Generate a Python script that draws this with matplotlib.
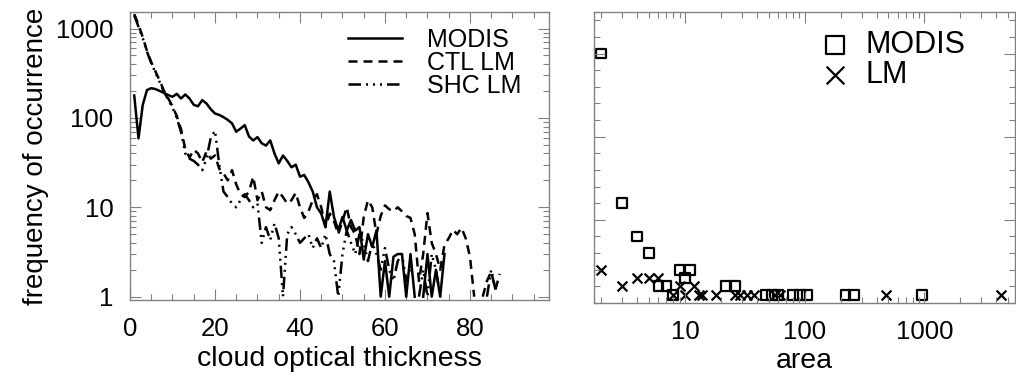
import numpy as np
import matplotlib
matplotlib.use("Agg")
import matplotlib.pyplot as plt
from matplotlib.ticker import FixedLocator, MultipleLocator, LogLocator, NullFormatter, FuncFormatter

plt.rcParams['font.family'] = ['Liberation Sans', 'DejaVu Sans']

nan = np.nan

# --- LEFT PANEL DATA: frequency vs cloud optical thickness ---
tau = np.arange(1, 89)

modis = [178, 59, 140, 205, 215, 210, 200, 190, 180, 172,
         186, 165, 183, 165, 140, 135, 158, 145, 125, 112,
         108, 102, 95, 87, 70, 76, 83, 62, 56, 61,
         52, 49, 56, 40, 31, 38, 33, 28, 30, 22,
         23, 19, 15, 10, 8.5, 6, 15, 7.8, 5.5, 7.8,
         5.5, 7.2, 5.5, 6, 2.6, 5, 3.6, 5.5, 1, 2.5,
         1, 2.8, 3, 3, 1, 3, 1, nan, 1, 3,
         1, 2, 1, 3, nan, nan, nan, nan, nan, nan,
         nan, nan, nan, nan, nan, nan, nan, nan]

ctl_lm = [1450, 1100, 800, 560, 420, 330, 260, 200, 165, 135,
          105, 75, 45, 36, 44, 40, 32, 42, 35, 38,
          27, 24, 20, 26, 18, 14, 13, 15, 22, 12,
          15, 10, 9.3, 12, 15, 13, 11, 12, 14.5, 10,
          7.6, 9, 12, 14, 10, 6, 8.5, 7, 5, 7,
          10, 6, 5, 3, 7.8, 12, 10, 5, 8, 10.5,
          9.5, 9, 10, 9, 8, 7.6, 5, 1.5, 3, 8.6,
          4, 3, 2, 3.8, 4.5, 5.6, 5, 5.9, 4.5, 2.8,
          1, nan, 1, 1.5, 1.9, 1.2, 1.8, nan]

shc_lm = [1400, 1050, 780, 550, 410, 320, 250, 195, 160, 130,
          100, 70, 40, 35, 33, 30, 26, 35, 60, 72,
          30, 15, 13, 11, 10, 12, 14, 12, 10, 11,
          4, 6, 4.3, 6.6, 4.5, 1, 5, 6, 5, 4,
          4.5, 5, 3.5, 4.5, 3.5, 5, 3, 2.5, 1, 3,
          5.5, 4, 3, 5, 4, 2.5, 4, 3, 2, 3.5,
          2, 1.5, 2.5, 3, 1.5, 2, nan, 1, 2, 1,
          3, 2, 1, nan, nan, nan, nan, nan, nan, nan,
          nan, nan, nan, 1, 2, 1.2, nan, nan]

# --- RIGHT PANEL DATA: frequency vs cloud area ---
modis_area = [2, 3, 4, 5, 6, 7, 8, 9, 10, 11, 22, 26, 47, 53, 60, 80, 91, 104, 219, 258, 955]
modis_freq = [30, 12, 8, 6, 2, 2, 1, 4, 3, 4, 2, 2, 1, 1, 1, 1, 1, 1, 1, 1, 1]
lm_area = [2, 3, 4, 5, 6, 8, 9, 10, 12, 13, 14, 18, 26, 29, 33, 38, 56, 62, 480, 4400]
lm_freq = [4, 2, 3, 3, 3, 1, 2, 1, 2, 1, 1, 1, 1, 1, 1, 1, 1, 1, 1, 1]

W, H = 1016, 375
fig = plt.figure(figsize=(W / 100, H / 100), dpi=100)
ax1 = fig.add_axes([130 / W, 1 - 300 / H, 419 / W, 288 / H])
ax2 = fig.add_axes([594 / W, 1 - 303 / H, 421 / W, 291 / H])

FRAME = '#808080'
lw = 1.8

def idl_frame(ax):
    for s in ax.spines.values():
        s.set_color(FRAME)
        s.set_linewidth(1.0)
    ax.tick_params(which='both', direction='in', top=True, right=True,
                   color=FRAME, width=0.8, labelsize=18.5, pad=12)
    ax.tick_params(which='major', length=8)
    ax.tick_params(which='minor', length=4)

# --- left panel ---
ax1.plot(tau, modis, color='black', lw=lw, ls='-', label='MODIS')
ax1.plot(tau, ctl_lm, color='black', lw=lw, ls=(0, (3.6, 2.4)), label='CTL LM')
ax1.plot(tau, shc_lm, color='black', lw=lw,
         ls=(0, (5, 2, 0.8, 2, 0.8, 2, 0.8, 2)), label='SHC LM')
ax1.set_yscale('log')
ax1.set_xlim(0, 98.6)
ax1.set_ylim(0.918, 1530)
ax1.xaxis.set_major_locator(FixedLocator([0, 20, 40, 60, 80]))
ax1.xaxis.set_minor_locator(MultipleLocator(5))
ax1.yaxis.set_major_locator(FixedLocator([1, 10, 100, 1000]))
ax1.yaxis.set_minor_locator(LogLocator(base=10, subs=np.arange(2, 10)))
ax1.yaxis.set_minor_formatter(NullFormatter())
ax1.yaxis.set_major_formatter(FuncFormatter(lambda v, p: f"{v:g}"))
idl_frame(ax1)
ax1.set_xlabel('cloud optical thickness', fontsize=20.5, labelpad=4)
ax1.set_ylabel('frequency of occurrence', fontsize=20, labelpad=5)
ax1.legend(loc='upper left', bbox_to_anchor=((348 - 130) / 419, 0.944),
           frameon=False, fontsize=18, handlelength=2.15, handletextpad=1.0,
           labelspacing=-0.05, borderaxespad=0, borderpad=0)

# --- right panel ---
ax2.scatter(modis_area, modis_freq, marker='s', s=50, facecolors='none',
            edgecolors='black', linewidths=1.6, label='MODIS', clip_on=False)
ax2.scatter(lm_area, lm_freq, marker='x', s=50, color='black',
            linewidths=1.6, label='LM', clip_on=False)
ax2.set_xscale('log')
ax2.set_xlim(1.737, 5715)
ax2.set_ylim(0, 35)
ax2.xaxis.set_major_locator(FixedLocator([10, 100, 1000]))
ax2.xaxis.set_minor_locator(LogLocator(base=10, subs=np.arange(2, 10)))
ax2.xaxis.set_minor_formatter(NullFormatter())
ax2.xaxis.set_major_formatter(FuncFormatter(lambda v, p: f"{v:g}"))
ax2.yaxis.set_major_locator(MultipleLocator(10))
ax2.yaxis.set_minor_locator(MultipleLocator(2))
idl_frame(ax2)
ax2.tick_params(axis='y', labelleft=False)
ax2.set_xlabel('area', fontsize=20.5, labelpad=3)
ax2.legend(loc='upper left', bbox_to_anchor=((820 - 594) / 421, 0.938),
           frameon=False, fontsize=22, handletextpad=0.5, handlelength=1.0,
           labelspacing=0.0, borderaxespad=0, borderpad=0, markerscale=1.8)

fig.savefig('out.png', dpi=100)
